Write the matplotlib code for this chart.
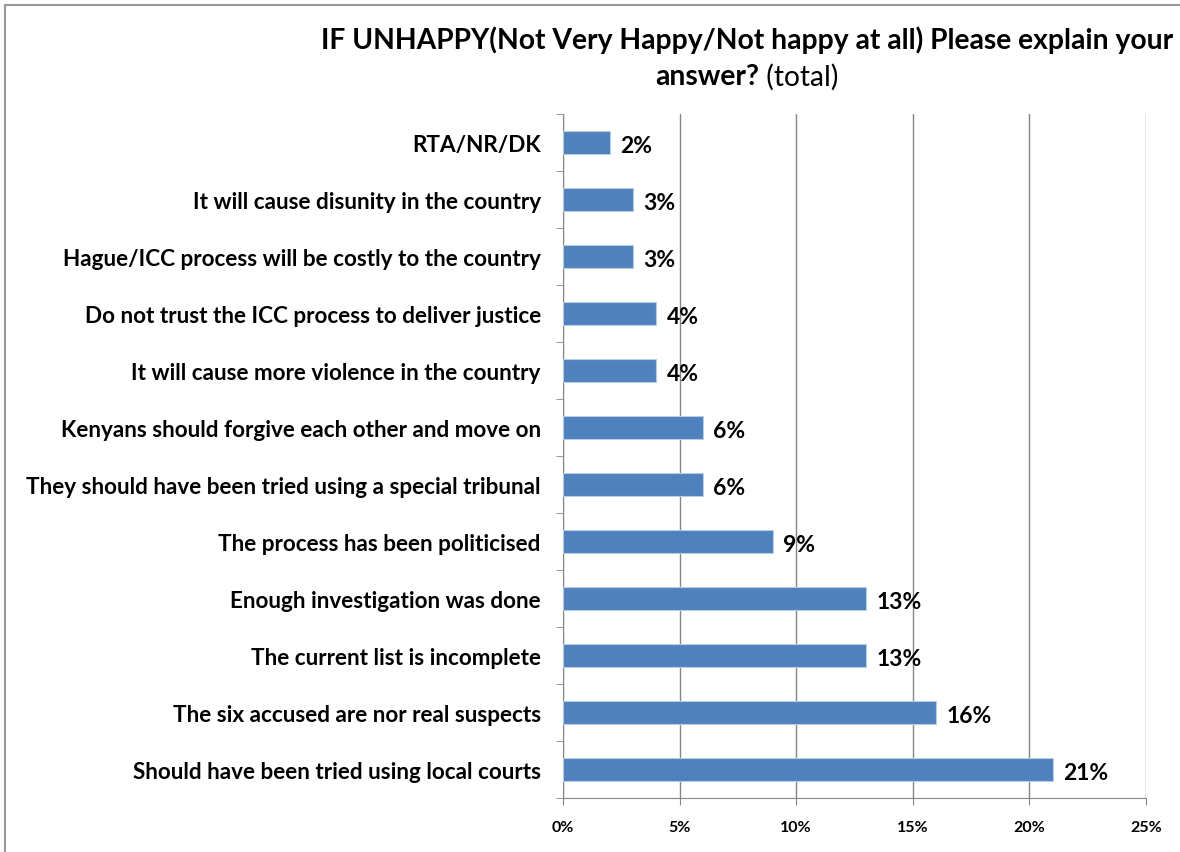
import matplotlib
matplotlib.use("Agg")
import matplotlib.pyplot as plt
from matplotlib.patches import Rectangle

categories = [
    "RTA/NR/DK",
    "It will cause disunity in the country",
    "Hague/ICC process will be costly to the country",
    "Do not trust the ICC process to deliver justice",
    "It will cause more violence in the country",
    "Kenyans should forgive each other and move on",
    "They should have been tried using a special tribunal",
    "The process has been politicised",
    "Enough investigation was done",
    "The current list is incomplete",
    "The six accused are nor real suspects",
    "Should have been tried using local courts",
]
values = [2, 3, 3, 4, 4, 6, 6, 9, 13, 13, 16, 21]
xticks = [0, 5, 10, 15, 20, 25]
xtick_labels = ["0%", "5%", "10%", "15%", "20%", "25%"]

FONT = "Lato"
fig = plt.figure(figsize=(11.8, 8.53), dpi=100)
fig.patch.set_facecolor("white")
# outer chart frame
fig.add_artist(Rectangle((5 / 1180, -0.01), 1.2, 1 - 6 / 853 + 0.01, transform=fig.transFigure,
                         fill=False, edgecolor="#999999", linewidth=1.5))

ax = fig.add_axes([563 / 1180, 1 - 799 / 853, (1146 - 563) / 1180, (799 - 115) / 853])
n = len(categories)
ypos = list(range(n))
ax.barh(ypos, values, height=0.4, color="#4F81BD", edgecolor="#B9CDE5", linewidth=0.8, zorder=3)
ax.set_ylim(n - 0.5, -0.5)
ax.set_xlim(0, 25)
ax.set_xticks(xticks)
ax.set_xticklabels(xtick_labels, fontsize=11.5, fontweight="bold", family=FONT)
ax.set_yticks(ypos)
ax.set_yticklabels(categories, fontsize=16.2, fontweight="bold", family=FONT)
ax.tick_params(axis="y", length=0, pad=16)
ax.tick_params(axis="x", length=5, color="#868686", pad=11)
ax.set_yticks([i + 0.5 for i in range(-1, n)], minor=True)
ax.tick_params(axis="y", which="minor", length=5, color="#868686")
ax.grid(axis="x", color="#868686", linewidth=1, zorder=0)
for s in ["top", "right"]:
    ax.spines[s].set_visible(False)
for s in ["left", "bottom"]:
    ax.spines[s].set_color("#868686")

for y, v in zip(ypos, values):
    ax.text(v + 0.45, y + 0.06, f"{v}%", va="center", ha="left", fontsize=16.5,
            fontweight="bold", family=FONT, zorder=4)

fig.text(747 / 1180, 1 - 40 / 853, "IF UNHAPPY(Not Very Happy/Not happy at all) Please explain your",
         ha="center", va="center", fontsize=20.3, fontweight="bold", family=FONT)
fig.canvas.draw()
r = fig.canvas.get_renderer()
t1 = fig.text(0, 1 - 77 / 853, "answer?", ha="left", va="center", fontsize=20.3, fontweight="bold", family=FONT)
t2 = fig.text(0, 1 - 77 / 853, " (total)", ha="left", va="center", fontsize=20.3, family=FONT)
w1 = t1.get_window_extent(r).width
w2 = t2.get_window_extent(r).width
start = 747 - (w1 + w2) / 2
t1.set_x(start / 1180)
t2.set_x((start + w1) / 1180)

fig.savefig("out.png", dpi=100)
